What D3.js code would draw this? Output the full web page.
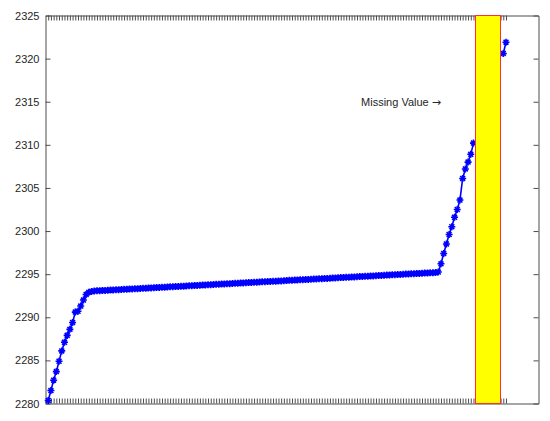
<!DOCTYPE html>
<html><head><meta charset="utf-8">
<script src="https://cdn.jsdelivr.net/npm/d3@7"></script>
<style>body{margin:0;background:#fff}svg{display:block}</style>
</head><body>
<svg id="c" width="550" height="421"></svg>
<script>
// Data (index 1..170); null = missing value
const risingStart = [2280.35,2281.5,2282.7,2283.7,2284.9,2286.1,2287.1,2287.9,2288.6,2289.4,2290.6,2290.7,2291.3,2292.0,2292.65,2292.9,2293.0];
const plateau = [2293.05,2293.07,2293.09,2293.10,2293.12,2293.14,2293.15,2293.17,2293.19,2293.20,2293.22,2293.24,2293.26,2293.27,2293.29,2293.31,2293.32,2293.34,2293.36,2293.37,2293.39,2293.41,2293.43,2293.44,2293.46,2293.48,2293.49,2293.51,2293.53,2293.54,2293.56,2293.58,2293.60,2293.61,2293.63,2293.65,2293.66,2293.68,2293.70,2293.71,2293.73,2293.75,2293.77,2293.78,2293.80,2293.82,2293.83,2293.85,2293.87,2293.88,2293.90,2293.92,2293.94,2293.95,2293.97,2293.99,2294.00,2294.02,2294.04,2294.05,2294.07,2294.09,2294.11,2294.12,2294.14,2294.16,2294.17,2294.19,2294.21,2294.22,2294.24,2294.26,2294.28,2294.29,2294.31,2294.33,2294.34,2294.36,2294.38,2294.39,2294.41,2294.43,2294.45,2294.46,2294.48,2294.50,2294.51,2294.53,2294.55,2294.56,2294.58,2294.60,2294.62,2294.63,2294.65,2294.67,2294.68,2294.70,2294.72,2294.73,2294.75,2294.77,2294.79,2294.80,2294.82,2294.84,2294.85,2294.87,2294.89,2294.90,2294.92,2294.94,2294.96,2294.97,2294.99,2295.01,2295.02,2295.04,2295.06,2295.07,2295.09,2295.11,2295.13,2295.14,2295.15,2295.16,2295.18];
const risingEnd = [2295.25,2296.2,2297.4,2298.5,2299.6,2300.5,2301.6,2302.5,2303.6,2306.1,2307.2,2308.0,2308.9,2310.2];
const missing = [null,null,null,null,null,null,null,null,null,null];
const afterGap = [2320.6,2321.9];
const values = [].concat(risingStart, plateau, risingEnd, missing, afterGap);
const xLimits = [0, 182];
const yLimits = [2280, 2325];
const yTicks = [2280,2285,2290,2295,2300,2305,2310,2315,2320,2325];
const missingSpan = [158.7, 167.7];
const annotationText = "Missing Value ";
const annotationArrow = "\u2192";
const annotationPos = [116.5, 2314.55];

const svg = d3.select("#c");
const L = 45.5, R = 538.5, T = 15.5, B = 403.5;
const x = d3.scaleLinear().domain(xLimits).range([L, R]);
const y = d3.scaleLinear().domain(yLimits).range([B, T]);
const idx = values.map((v, i) => i + 1);
const axisColor = "#4d4d4d";
const font = "'Liberation Sans', Arial, Helvetica, sans-serif";

function styleAxis(g, showText) {
  g.selectAll(".domain").attr("stroke", axisColor).attr("stroke-width", 1);
  g.selectAll(".tick line").attr("stroke", axisColor).attr("stroke-width", 1);
  g.selectAll(".tick text").attr("fill", "#262626").style("font-family", font).style("font-size", "11px");
  if (!showText) g.selectAll(".tick text").remove();
}

svg.append("g").attr("transform", `translate(0,${B})`)
  .call(d3.axisBottom(x).tickValues(idx).tickSizeInner(-5).tickSizeOuter(0).tickFormat(""))
  .call(g => styleAxis(g, false));
svg.append("g").attr("transform", `translate(0,${T})`)
  .call(d3.axisTop(x).tickValues(idx).tickSizeInner(-5).tickSizeOuter(0).tickFormat(""))
  .call(g => styleAxis(g, false));
svg.append("g").attr("transform", `translate(${L},0)`)
  .call(d3.axisLeft(y).tickValues(yTicks).tickSizeInner(-5).tickSizeOuter(0).tickPadding(6).tickFormat(d3.format("d")))
  .call(g => styleAxis(g, true));
svg.append("g").attr("transform", `translate(${R},0)`)
  .call(d3.axisRight(y).tickValues(yTicks).tickSizeInner(-5).tickSizeOuter(0).tickFormat(""))
  .call(g => styleAxis(g, false));

const pts = values.map((v, i) => ({i: i + 1, v}));
const line = d3.line().defined(d => d.v != null).x(d => x(d.i)).y(d => y(d.v));
svg.append("path").datum(pts).attr("d", line)
  .attr("fill", "none").attr("stroke", "#0000ff").attr("stroke-width", 1.6);

const r = 3.5;
const star = `M${-r},0L${r},0M0,${-r}L0,${r}M${-r*0.7},${-r*0.7}L${r*0.7},${r*0.7}M${-r*0.7},${r*0.7}L${r*0.7},${-r*0.7}`;
svg.append("g").selectAll("path").data(pts.filter(d => d.v != null)).join("path")
  .attr("transform", d => `translate(${x(d.i)},${y(d.v)})`)
  .attr("d", star).attr("fill", "none").attr("stroke", "#0000ff").attr("stroke-width", 1.6);

const rx0 = Math.round(x(missingSpan[0])) + 0.5, rx1 = Math.round(x(missingSpan[1])) + 0.5;
svg.append("rect")
  .attr("x", rx0).attr("y", T)
  .attr("width", rx1 - rx0).attr("height", B - T)
  .attr("fill", "#ffff00").attr("stroke", "#ff3030").attr("stroke-width", 1);

const t = svg.append("text").attr("x", x(annotationPos[0])).attr("y", y(annotationPos[1]))
  .attr("fill", "#262626").style("font-family", font).style("font-size", "11px");
t.append("tspan").text(annotationText);
t.append("tspan").style("font-family", "'DejaVu Sans', sans-serif").style("font-size", "11px").text(annotationArrow);
</script>
</body></html>
